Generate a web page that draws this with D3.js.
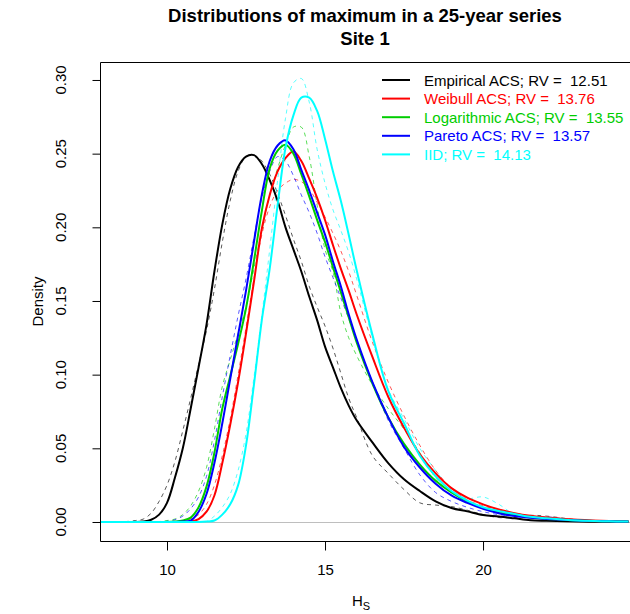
<!DOCTYPE html>
<html><head><meta charset="utf-8">
<script src="https://cdn.jsdelivr.net/npm/d3@7"></script>
<style>body{margin:0;background:#fff;} svg{display:block;font-family:"Liberation Sans",Arial,sans-serif;}</style>
</head><body><div id="chart"></div>
<script>
const titleLines = ["Distributions of maximum in a 25-year series", "Site 1"];
const xTicks = [10, 15, 20];
const yTicks = [0, 0.05, 0.10, 0.15, 0.20, 0.25, 0.30];
const yTickLabels = ["0.00","0.05","0.10","0.15","0.20","0.25","0.30"];
const seriesNames = ["Empirical ACS", "Weibull ACS", "Logarithmic ACS", "Pareto ACS", "IID"];
const returnValues = ["12.51", "13.76", "13.55", "13.57", "14.13"];
const seriesColors = ["#000000", "#FF0000", "#00CD00", "#0000FF", "#00FFFF"];
const xs = [7.9,8.5,9.0,9.25,9.5,9.75,10,10.25,10.5,10.75,11,11.25,11.5,11.75,12,12.25,12.5,12.75,13,13.25,13.5,13.75,14,14.25,14.5,14.75,15,15.25,15.5,15.75,16,16.5,17,17.5,18,18.5,19,19.5,20,20.5,21,21.5,22,23,24,24.6];
// solid (fitted) densities
const empiricalSolid = [0,0,0,0.0003,0.0015,0.005,0.013,0.030,0.050,0.077,0.105,0.134,0.170,0.202,0.226,0.241,0.248,0.249,0.243,0.232,0.218,0.200,0.185,0.170,0.153,0.137,0.119,0.105,0.091,0.079,0.069,0.054,0.040,0.029,0.021,0.014,0.0095,0.0072,0.0048,0.0038,0.0025,0.0012,0.0008,0.0003,0.0001,0.0001];
const weibullSolid = [0,0,0,0,0,0,0,0,0,0.0003,0.002,0.007,0.018,0.040,0.066,0.095,0.128,0.163,0.199,0.222,0.238,0.247,0.2514,0.245,0.233,0.220,0.205,0.188,0.172,0.157,0.141,0.112,0.085,0.064,0.046,0.033,0.023,0.0165,0.012,0.0085,0.006,0.0042,0.003,0.0015,0.0007,0.0005];
const logarithmicSolid = [0,0,0,0,0,0,0,0.0003,0.001,0.003,0.010,0.024,0.047,0.077,0.099,0.121,0.145,0.177,0.211,0.240,0.252,0.256,0.250,0.236,0.221,0.205,0.190,0.173,0.156,0.139,0.122,0.094,0.071,0.053,0.039,0.028,0.020,0.014,0.0095,0.0065,0.0045,0.003,0.002,0.001,0.0005,0.0003];
const paretoSolid = [0,0,0,0,0,0,0,0,0.0003,0.001,0.007,0.019,0.040,0.067,0.097,0.127,0.157,0.190,0.222,0.245,0.2555,0.259,0.253,0.239,0.225,0.210,0.195,0.177,0.160,0.141,0.124,0.095,0.071,0.051,0.037,0.026,0.018,0.013,0.009,0.006,0.004,0.0028,0.002,0.001,0.0005,0.0003];
const iidSolid = [0,0,0,0,0,0,0,0,0,0,0,0.0003,0.001,0.005,0.012,0.025,0.052,0.093,0.137,0.172,0.215,0.254,0.276,0.288,0.288,0.279,0.260,0.238,0.218,0.195,0.171,0.127,0.089,0.067,0.045,0.031,0.021,0.0145,0.010,0.0075,0.0055,0.0035,0.0025,0.001,0.0005,0.0003];
// dashed (simulated) densities
const empiricalDashed = [0,0,0.001,0.002,0.006,0.014,0.025,0.041,0.062,0.084,0.107,0.130,0.158,0.190,0.218,0.238,0.248,0.249,0.245,0.236,0.223,0.208,0.192,0.177,0.160,0.146,0.133,0.118,0.101,0.084,0.071,0.045,0.033,0.022,0.013,0.0115,0.0105,0.008,0.005,0.003,0.003,0.0045,0.004,0.0015,0.0005,0.0002];
const weibullDashed = [0,0,0,0,0,0,0,0,0.0005,0.002,0.005,0.012,0.025,0.045,0.070,0.100,0.132,0.165,0.195,0.214,0.225,0.230,0.2325,0.231,0.226,0.217,0.207,0.196,0.184,0.170,0.154,0.122,0.095,0.072,0.052,0.035,0.023,0.015,0.011,0.008,0.006,0.004,0.003,0.0015,0.0007,0.0005];
const logarithmicDashed = [0,0,0,0,0,0.0003,0.001,0.002,0.005,0.011,0.021,0.037,0.063,0.092,0.110,0.128,0.146,0.172,0.198,0.222,0.240,0.256,0.268,0.268,0.248,0.215,0.185,0.170,0.142,0.125,0.113,0.093,0.077,0.063,0.047,0.030,0.020,0.014,0.010,0.006,0.004,0.003,0.002,0.001,0.0004,0.0002];
const paretoDashed = [0,0,0,0,0,0,0.0005,0.0015,0.004,0.009,0.017,0.031,0.055,0.085,0.113,0.140,0.165,0.193,0.220,0.238,0.248,0.245,0.235,0.222,0.210,0.196,0.180,0.166,0.152,0.138,0.123,0.095,0.069,0.050,0.032,0.020,0.014,0.010,0.007,0.005,0.004,0.003,0.0035,0.001,0.0004,0.0002];
const iidDashed = [0,0,0,0,0,0,0,0,0,0,0,0.0003,0.004,0.010,0.019,0.035,0.060,0.098,0.140,0.185,0.232,0.274,0.298,0.301,0.285,0.253,0.230,0.212,0.198,0.183,0.165,0.125,0.090,0.070,0.050,0.035,0.022,0.016,0.017,0.012,0.005,0.003,0.002,0.0008,0.0003,0.0002];

const solidSeries = [empiricalSolid, weibullSolid, logarithmicSolid, paretoSolid, iidSolid];
const dashedSeries = [empiricalDashed, weibullDashed, logarithmicDashed, paretoDashed, iidDashed];

const W = 630, H = 614;
const L = 100, R = 630, T = 62, B = 541;
const svg = d3.select("#chart").append("svg").attr("width", W).attr("height", H);
const x = d3.scaleLinear().domain([7.88, 24.65]).range([L, R]);
const y = d3.scaleLinear().domain([-0.0129, 0.3122]).range([B, T]);

svg.append("defs").append("clipPath").attr("id","clip").append("rect")
  .attr("x", L).attr("y", T).attr("width", R - L).attr("height", B - T);

// zero line
svg.append("line").attr("x1", L).attr("x2", R).attr("y1", Math.round(y(0)) + 0.5).attr("y2", Math.round(y(0)) + 0.5)
  .attr("stroke", "#bebebe").attr("stroke-width", 1);

const line = d3.line().x((d, i) => x(xs[i])).y(d => y(d)).curve(d3.curveCatmullRom.alpha(0.5));
const g = svg.append("g").attr("clip-path", "url(#clip)");
dashedSeries.forEach((s, k) => {
  g.append("path").attr("d", line(s)).attr("fill", "none").attr("stroke", seriesColors[k])
    .attr("stroke-width", 1).attr("stroke-dasharray", "4,4").attr("opacity", 0.65);
});
solidSeries.forEach((s, k) => {
  g.append("path").attr("d", line(s)).attr("fill", "none").attr("stroke", seriesColors[k])
    .attr("stroke-width", 2).attr("stroke-linejoin", "round");
});

// box
svg.append("path").attr("d", `M${R},${T + 0.5}H${L + 0.5}V${B + 0.5}H${R}`).attr("fill", "none")
  .attr("stroke", "#000").attr("stroke-width", 1);

// x axis
const xAxis = d3.axisBottom(x).tickValues(xTicks).tickSize(9).tickPadding(14).tickFormat(d3.format("d"));
const xa = svg.append("g").attr("transform", `translate(0,${B + 0.5})`).call(xAxis);
xa.select(".domain").remove();
xa.selectAll("text").attr("font-size", 15).attr("fill", "#000").attr("font-family", "Liberation Sans, Arial, sans-serif");

// y axis
const yAxis = d3.axisLeft(y).tickValues(yTicks).tickSize(8).tickFormat((d, i) => yTickLabels[i]);
const ya = svg.append("g").attr("transform", `translate(${L + 0.5},0)`).call(yAxis);
ya.select(".domain").remove();
ya.selectAll("text").remove();
yTicks.forEach((v, i) => {
  svg.append("text").attr("transform", `translate(66,${y(v)}) rotate(-90)`)
    .attr("text-anchor", "middle").attr("font-size", 15).attr("fill", "#000").text(yTickLabels[i]);
});

// axis titles
svg.append("text").attr("transform", `translate(43,${(T + B) / 2}) rotate(-90)`)
  .attr("text-anchor", "middle").attr("font-size", 15).text("Density");
const xl = svg.append("text").attr("x", (L + R) / 2 - 4).attr("y", 606).attr("text-anchor", "middle").attr("font-size", 15);
xl.append("tspan").text("H");
xl.append("tspan").attr("dy", 4).attr("font-size", 11).text("S");

// title
titleLines.forEach((t, i) => {
  svg.append("text").attr("x", (L + R) / 2).attr("y", 22 + i * 23).attr("text-anchor", "middle")
    .attr("font-size", 18.5).attr("font-weight", "bold").text(t);
});

// legend
seriesNames.forEach((n, k) => {
  const yy = 80 + k * 18.6;
  svg.append("line").attr("x1", 382).attr("x2", 410).attr("y1", yy).attr("y2", yy)
    .attr("stroke", seriesColors[k]).attr("stroke-width", 2);
  svg.append("text").attr("x", 424).attr("y", yy + 5.5).attr("font-size", 15)
    .attr("fill", seriesColors[k]).attr("xml:space", "preserve").style("white-space", "pre")
    .text(`${n}; RV =  ${returnValues[k]}`);
});
</script></body></html>
